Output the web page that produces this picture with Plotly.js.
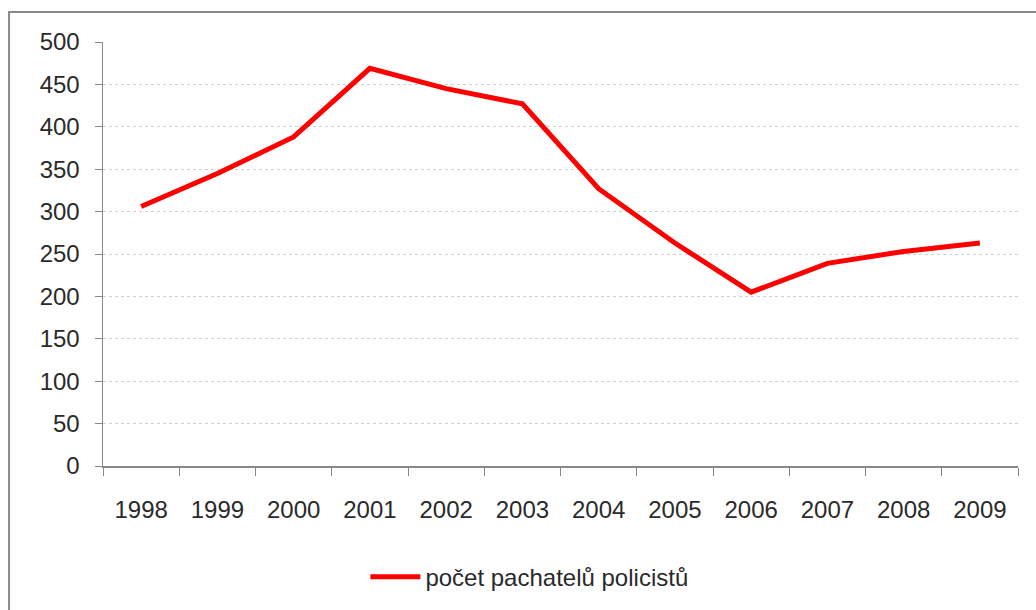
<!DOCTYPE html>
<html>
<head>
<meta charset="utf-8">
<script src="https://cdn.plot.ly/plotly-3.0.1.min.js"></script>
<style>html,body{margin:0;padding:0;background:#fff;}#chart{width:1036px;height:610px;}</style>
</head>
<body>
<div id="chart"></div>
<script>
const years = ["1998","1999","2000","2001","2002","2003","2004","2005","2006","2007","2008","2009"];
const offenders = [306, 345, 388, 469, 445, 427, 327, 263, 205, 239, 253, 263];
const seriesName = "počet pachatelů policistů";
const yTicks = [0, 50, 100, 150, 200, 250, 300, 350, 400, 450, 500];

const font = "Liberation Sans, Arial, sans-serif";
const txt = "#2a2a2a";
const trace = {
  x: years, y: offenders, type: "scatter", mode: "lines", name: seriesName,
  line: {color: "#ff0000", width: 5}
};
const layout = {
  width: 1036, height: 610,
  margin: {l: 103, r: 18, t: 42, b: 143},
  paper_bgcolor: "#fff", plot_bgcolor: "#fff",
  font: {family: font, size: 23, color: txt},
  showlegend: true,
  legend: {orientation: "h", x: 0.466, xanchor: "center", y: -0.259, yanchor: "middle",
           font: {family: font, size: 24, color: txt}, itemwidth: 50},
  xaxis: {
    type: "category", range: [-0.5, 11.5], tickson: "boundaries",
    ticks: "outside", ticklen: 8, tickcolor: "#888", tickwidth: 1,
    showline: true, linecolor: "#888", linewidth: 1.5,
    showgrid: false, zeroline: false, fixedrange: true,
    ticklabelstandoff: 22,
    tickfont: {family: font, size: 24, color: txt}
  },
  yaxis: {
    range: [0, 500], tickvals: yTicks,
    ticks: "outside", ticklen: 7, tickcolor: "#888",
    showline: true, linecolor: "#888", linewidth: 1.5,
    showgrid: true, gridcolor: "#d0d0d0", griddash: "dot", gridwidth: 1,
    zeroline: false, fixedrange: true,
    ticklabelstandoff: 10,
    tickfont: {family: font, size: 24, color: txt}
  },
  shapes: [{
    type: "rect", xref: "paper", yref: "paper",
    x0: -0.1027, x1: 1.1, y0: -0.5, y1: 1.0706,
    line: {color: "#8a8a8a", width: 2}, fillcolor: "rgba(0,0,0,0)", layer: "below"
  }]
};
Plotly.newPlot("chart", [trace], layout, {staticPlot: true, displayModeBar: false});
</script>
</body>
</html>
